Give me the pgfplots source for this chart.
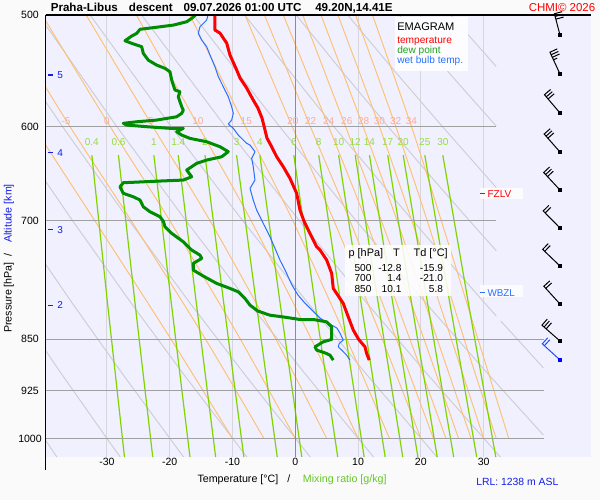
\documentclass[border=0pt]{standalone}
\usepackage{pgfplots}
\pgfplotsset{compat=1.18}
\usepackage{fontspec}
\setmainfont{Liberation Sans}
\definecolor{figbg}{RGB}{250,250,250}
\definecolor{plotbg}{RGB}{240,240,255}
\definecolor{vgrid}{RGB}{214,214,220}
\definecolor{hgrid}{RGB}{160,160,160}
\definecolor{zeroln}{RGB}{140,140,140}
\definecolor{dryad}{RGB}{205,205,210}
\definecolor{moistad}{RGB}{255,192,112}
\definecolor{moistlbl}{RGB}{255,170,150}
\definecolor{mixln}{RGB}{128,212,0}
\definecolor{mixlbl}{RGB}{150,220,60}
\definecolor{tempred}{RGB}{255,0,0}
\definecolor{dewgreen}{RGB}{0,140,0}
\definecolor{leggreen}{RGB}{30,160,30}
\definecolor{wetblue}{RGB}{40,110,255}
\definecolor{altblue}{RGB}{20,30,235}
\definecolor{xlgreen}{RGB}{100,200,40}
\newcommand{\fs}[1]{\fontsize{#1}{#1}\selectfont}
\begin{document}
\begin{tikzpicture}
\begin{scope}[x=0.75pt,y=-0.75pt]
\fill[figbg] (0,0) rectangle (600,500);
\end{scope}
\begin{axis}[
  at={(238.875pt,-177pt)}, anchor=center,
  width=408.75pt, height=331.5pt, scale only axis,
  xmin=-39.7, xmax=47.1, ymode=log, ymin=500, ymax=1031, y dir=reverse,
  axis line style={draw=none},
  axis background/.style={fill=plotbg},
  xtick={-30,-20,-10,0,10,20,30}, xticklabels={-30,-20,-10,0,10,20,30},
  ytick={500,600,700,850,925,1000}, yticklabels={500,600,700,850,925,1000},
  major tick length=0pt, minor tick length=0pt, tick style={draw=none},
  xticklabel style={anchor=center, yshift=-3.75pt, font=\fs{7.9pt}},
  yticklabel style={anchor=center, xshift=-12pt, font=\fs{7.9pt}},
  every axis plot/.append style={line join=round},
]
% vertical grid
\pgfplotsinvokeforeach{-30,-20,-10,10,20,30}{\addplot[vgrid, line width=0.75pt] coordinates {(#1,500) (#1,1031)};}
% dry adiabats
\addplot[dryad, line width=0.7pt] coordinates {(-37.96,1031) (-46.9,900)};
\addplot[dryad, line width=0.7pt] coordinates {(-27.87,1031) (-30,1000) (-37.21,900) (-45.02,800)};
\addplot[dryad, line width=0.7pt] coordinates {(-17.78,1031) (-27.50,900) (-35.63,800) (-44.53,700)};
\addplot[dryad, line width=0.7pt] coordinates {(-7.70,1031) (-17.80,900) (-26.25,800) (-35.49,700) (-45.73,600)};
\addplot[dryad, line width=0.7pt] coordinates {(2.39,1031) (-8.10,900) (-16.87,800) (-26.46,700) (-37.09,600) (-49.07,500)};
\addplot[dryad, line width=0.7pt] coordinates {(12.48,1031) (1.60,900) (-7.49,800) (-17.43,700) (-28.45,600) (-40.87,500)};
\addplot[dryad, line width=0.7pt] coordinates {(22.57,1031) (11.31,900) (1.90,800) (-8.40,700) (-19.80,600) (-32.67,500)};
\addplot[dryad, line width=0.7pt] coordinates {(32.66,1031) (21.01,900) (11.28,800) (0.63,700) (-11.16,600) (-24.46,500)};
\addplot[dryad, line width=0.7pt] coordinates {(39.5,994.4) (30.72,900) (20.66,800) (9.66,700) (-2.52,600) (-16.26,500)};
\addplot[dryad, line width=0.7pt] coordinates {(39.5,890.8) (32.72,825)};
\addplot[dryad, line width=0.7pt] coordinates {(32,818.2) (30.04,800) (18.69,700) (6.12,600) (-8.06,500)};
\addplot[dryad, line width=0.7pt] coordinates {(32,735.4) (27.72,700) (21.42,650) (14.76,600) (7.69,550) (0.15,500)};
\addplot[dryad, line width=0.7pt] coordinates {(32,663.1) (23.41,600) (16.12,550) (8.35,500)};
\addplot[dryad, line width=0.7pt] coordinates {(32,599.7) (24.55,550) (16.55,500)};
\addplot[dryad, line width=0.7pt] coordinates {(32,543.9) (24.76,500)};
% moist adiabats
\addplot[moistad, line width=0.7pt, smooth] coordinates {(-10,1000) (-19.8,850) (-31.95,700) (-41.7,600)};
\addplot[moistad, line width=0.7pt, smooth] coordinates {(-5,1000) (-14.3,850) (-26.15,700) (-35.9,600) (-46.7,500)};
\addplot[moistad, line width=0.7pt, smooth] coordinates {(0,1000) (-8.75,850) (-20.0,700) (-29.5,600) (-40.3,500)};
\addplot[moistad, line width=0.7pt, smooth] coordinates {(5,1000) (-3.1,850) (-13.6,700) (-22.7,600) (-33.3,500)};
\addplot[moistad, line width=0.7pt, smooth] coordinates {(10,1000) (2.55,850) (-7.05,700) (-15.4,600) (-25.3,500)};
\addplot[moistad, line width=0.7pt, smooth] coordinates {(15,1000) (8.2,850) (-0.4,700) (-7.95,600) (-16.8,500)};
\addplot[moistad, line width=0.7pt, smooth] coordinates {(20,1000) (13.85,850) (6.15,700) (-0.5,600) (-8.0,500)};
\addplot[moistad, line width=0.7pt, smooth] coordinates {(22,1000) (16.1,850) (8.7,700) (2.4,600) (-4.9,500)};
\addplot[moistad, line width=0.7pt, smooth] coordinates {(24,1000) (18.25,850) (11.25,700) (5.3,600) (-1.9,500)};
\addplot[moistad, line width=0.7pt, smooth] coordinates {(26,1000) (20.5,850) (13.7,700) (8.0,600) (1.2,500)};
\addplot[moistad, line width=0.7pt, smooth] coordinates {(28,1000) (22.6,850) (16.2,700) (10.8,600) (4.1,500)};
\addplot[moistad, line width=0.7pt, smooth] coordinates {(30,1000) (24.85,850) (18.55,700) (13.4,600) (6.8,500)};
\addplot[moistad, line width=0.7pt, smooth] coordinates {(32,1000) (26.9,850) (21.0,700) (16.0,600) (9.6,500)};
\addplot[moistad, line width=0.7pt, smooth] coordinates {(34,1000) (29.1,850) (23.25,700) (18.5,600) (12.3,500)};
% mixing ratio lines
\addplot[mixln, line width=0.9pt] coordinates {(-32.4,629) (-29.92,800) (-27.2,1031)};
\addplot[mixln, line width=0.9pt] coordinates {(-28.16,629) (-25.54,800) (-22.70,1031)};
\addplot[mixln, line width=0.9pt] coordinates {(-22.52,629) (-19.76,800) (-16.77,1031)};
\addplot[mixln, line width=0.9pt] coordinates {(-18.64,629) (-15.78,800) (-12.68,1031)};
\addplot[mixln, line width=0.9pt] coordinates {(-14.38,629) (-11.41,800) (-8.19,1031)};
\addplot[mixln, line width=0.9pt] coordinates {(-9.35,629) (-6.24,800) (-2.87,1031)};
\addplot[mixln, line width=0.9pt] coordinates {(-5.64,629) (-2.44,800) (1.04,1031)};
\addplot[mixln, line width=0.9pt] coordinates {(-0.23,629) (3.12,800) (6.76,1031)};
\addplot[mixln, line width=0.9pt] coordinates {(3.74,629) (7.21,800) (10.97,1031)};
\addplot[mixln, line width=0.9pt] coordinates {(6.91,629) (10.46,800) (14.32,1031)};
\addplot[mixln, line width=0.9pt] coordinates {(9.55,629) (13.18,800) (17.12,1031)};
\addplot[mixln, line width=0.9pt] coordinates {(11.82,629) (15.51,800) (19.53,1031)};
\addplot[mixln, line width=0.9pt] coordinates {(14.72,629) (18.50,800) (22.61,1031)};
\addplot[mixln, line width=0.9pt] coordinates {(17.19,629) (21.04,800) (25.23,1031)};
\addplot[mixln, line width=0.9pt] coordinates {(20.63,629) (24.59,800) (28.90,1031)};
\addplot[mixln, line width=0.9pt] coordinates {(23.50,629) (27.54,800) (31.94,1031)};
% horizontal grid
\addplot[hgrid, line width=0.9pt] coordinates {(-39.7,600) (32,600)};
\addplot[hgrid, line width=0.9pt] coordinates {(-39.7,700) (32,700)};
\addplot[hgrid, line width=0.9pt] coordinates {(-39.7,850) (39.6,850)};
\addplot[hgrid, line width=0.9pt] coordinates {(-39.7,925) (39.6,925)};
\addplot[hgrid, line width=0.9pt] coordinates {(-39.7,1000) (39.6,1000)};
\addplot[zeroln, line width=0.9pt] coordinates {(0,500) (0,1031)};
% labels of moist adiabats
\node[text=moistlbl, font=\fs{7.5pt}, inner sep=0pt] at (axis cs:-36.5,595) {-5};
\node[text=moistlbl, font=\fs{7.5pt}, inner sep=0pt] at (axis cs:-30.0,595) {0};
\node[text=moistlbl, font=\fs{7.5pt}, inner sep=0pt] at (axis cs:-23.0,595) {5};
\node[text=moistlbl, font=\fs{7.5pt}, inner sep=0pt] at (axis cs:-15.5,595) {10};
\node[text=moistlbl, font=\fs{7.5pt}, inner sep=0pt] at (axis cs:-7.8,595) {15};
\node[text=moistlbl, font=\fs{7.5pt}, inner sep=0pt] at (axis cs:-0.37,595) {20};
\node[text=moistlbl, font=\fs{7.5pt}, inner sep=0pt] at (axis cs:2.45,595) {22};
\node[text=moistlbl, font=\fs{7.5pt}, inner sep=0pt] at (axis cs:5.32,595) {24};
\node[text=moistlbl, font=\fs{7.5pt}, inner sep=0pt] at (axis cs:8.2,595) {26};
\node[text=moistlbl, font=\fs{7.5pt}, inner sep=0pt] at (axis cs:10.9,595) {28};
\node[text=moistlbl, font=\fs{7.5pt}, inner sep=0pt] at (axis cs:13.4,595) {30};
\node[text=moistlbl, font=\fs{7.5pt}, inner sep=0pt] at (axis cs:16.0,595) {32};
\node[text=moistlbl, font=\fs{7.5pt}, inner sep=0pt] at (axis cs:18.5,595) {34};
% labels of mixing ratio lines
\node[text=mixlbl, font=\fs{7.5pt}, inner sep=0pt] at (axis cs:-32.4,616) {0.4};
\node[text=mixlbl, font=\fs{7.5pt}, inner sep=0pt] at (axis cs:-28.16,616) {0.6};
\node[text=mixlbl, font=\fs{7.5pt}, inner sep=0pt] at (axis cs:-22.52,616) {1};
\node[text=mixlbl, font=\fs{7.5pt}, inner sep=0pt] at (axis cs:-18.64,616) {1.4};
\node[text=mixlbl, font=\fs{7.5pt}, inner sep=0pt] at (axis cs:-14.38,616) {2};
\node[text=mixlbl, font=\fs{7.5pt}, inner sep=0pt] at (axis cs:-9.35,616) {3};
\node[text=mixlbl, font=\fs{7.5pt}, inner sep=0pt] at (axis cs:-5.64,616) {4};
\node[text=mixlbl, font=\fs{7.5pt}, inner sep=0pt] at (axis cs:-0.23,616) {6};
\node[text=mixlbl, font=\fs{7.5pt}, inner sep=0pt] at (axis cs:3.74,616) {8};
\node[text=mixlbl, font=\fs{7.5pt}, inner sep=0pt] at (axis cs:6.91,616) {10};
\node[text=mixlbl, font=\fs{7.5pt}, inner sep=0pt] at (axis cs:9.55,616) {12};
\node[text=mixlbl, font=\fs{7.5pt}, inner sep=0pt] at (axis cs:11.82,616) {14};
\node[text=mixlbl, font=\fs{7.5pt}, inner sep=0pt] at (axis cs:14.72,616) {17};
\node[text=mixlbl, font=\fs{7.5pt}, inner sep=0pt] at (axis cs:17.19,616) {20};
\node[text=mixlbl, font=\fs{7.5pt}, inner sep=0pt] at (axis cs:20.63,616) {25};
\node[text=mixlbl, font=\fs{7.5pt}, inner sep=0pt] at (axis cs:23.50,616) {30};
% wet bulb temperature
\addplot[wetblue, line width=0.75pt] coordinates {
(-13.9,500) (-14.11,504.1) (-15.18,509.7) (-15.45,515.2) (-14.90,520.9) (-14.11,526.6) (-13.58,533.8)
(-12.79,544.2) (-12.26,553.1) (-11.46,562.3) (-10.67,571.6) (-10.13,581.0) (-9.87,587.3) (-10.13,593.8)
(-10.67,597.7) (-9.87,601.9) (-9.08,608.6) (-7.74,616.9) (-7.21,618.6) (-6.42,625.4) (-6.94,632.3)
(-6.69,641.0) (-6.42,655.1) (-7.21,664.2) (-6.69,676.9) (-6.15,688.1) (-5.10,703.3) (-4.03,718.9)
(-3.23,732.7) (-2.44,746.8) (-1.48,761.6) (-0.53,778.0) (0.43,790.9) (1.54,801.3) (2.82,811.9)
(3.93,821.3) (5.53,829.4) (6.64,834.8) (7.12,841.7) (7.39,846.8) (7.64,851.4) (7.01,856.0)
(6.85,860.8) (7.39,865.4) (8.18,872.6) (8.71,879.7)};
% dew point
\addplot[dewgreen, line width=2.25pt] coordinates {
(-15.9,500) (-16.50,502.7) (-17.29,505.5) (-19.43,508.3) (-21.54,509.7) (-24.73,511.8) (-25.25,515.2)
(-26.05,517.5) (-27.12,521.5) (-26.05,523.7) (-24.46,526.6) (-24.20,532.4) (-23.41,538.3) (-22.07,542.7)
(-20.75,545.6) (-19.95,548.7) (-19.68,556.2) (-19.16,565.3) (-18.36,566.9) (-18.63,571.6) (-18.09,581.0)
(-17.83,584.2) (-18.09,587.3) (-18.89,590.6) (-22.07,593.8) (-25.25,595.5) (-27.39,597.0) (-26.85,598.7)
(-23.66,600.3) (-19.95,601.9) (-17.83,601.9) (-18.89,605.3) (-18.09,608.6) (-16.77,611.9) (-14.11,615.3)
(-11.99,620.3) (-10.67,625.4) (-11.72,630.6) (-14.11,634.0) (-15.70,637.4) (-17.29,644.5) (-16.50,651.6)
(-17.83,655.1) (-21.54,656.2) (-27.39,658.0) (-27.91,662.4) (-27.39,669.5) (-25.80,673.3) (-24.73,676.9)
(-24.20,684.4) (-23.14,690.0) (-21.54,695.7) (-21.0,701.0) (-20.75,707.3) (-19.68,714.9) (-17.83,724.9)
(-16.50,734.7) (-15.18,740.8) (-14.90,744.8) (-16.24,750.9) (-16.24,759.2) (-14.65,766.7) (-12.52,775.9)
(-10.40,782.3) (-9.08,786.7) (-8.01,795.2) (-7.21,804.0) (-5.94,811.9) (-4.03,817.3) (-1.64,820.0)
(0.75,823.1) (2.87,823.1) (5.00,826.3) (5.80,833.1) (5.80,842.1) (5.8,850.4) (4.46,853.7) (3.14,860.8)
(3.41,865.4) (4.73,869.3) (5.53,872.6) (6.05,879.7)};
% temperature
\addplot[tempred, line width=2.25pt] coordinates {
(-12.8,500) (-12.8,512.4) (-11.99,515.0) (-10.92,523.5) (-10.40,533.8) (-9.33,547.1) (-8.80,554.3)
(-7.74,563.5) (-6.69,574.7) (-5.94,582.3) (-5.30,591.9) (-4.90,601.6) (-4.51,611.6) (-3.76,620.3)
(-2.96,630.6) (-1.91,641.0) (-0.84,653.3) (0.22,669.5) (0.75,688.1) (1.4,701.0) (2.34,714.9)
(3.41,730.8) (3.94,734.7) (5.00,746.8) (5.80,763.3) (6.05,782.3) (7.64,801.7) (8.44,819.5)
(9.24,837.5) (10.1,850.4) (11.10,860.8) (11.37,870.1) (11.78,879.7)};
\end{axis}
% wind barbs (pixel frame overlay)
\begin{axis}[
  at={(238.875pt,-177pt)}, anchor=center,
  width=408.75pt, height=331.5pt, scale only axis,
  xmin=46, xmax=591, ymin=15, ymax=457, y dir=reverse,
  hide axis, clip=false, unbounded coords=jump,
]
\addplot[black, line width=0.75pt] coordinates {(560,35) (554.37,13.73) (562.11,11.68) (nan,nan) (555.08,16.43) (562.82,14.38) (nan,nan) (555.80,19.14) (563.54,17.09)};
\addplot[black, line width=0.75pt] coordinates {(560,74) (549.94,52.23) (557.20,48.88) (nan,nan) (551.12,54.77) (558.38,51.42) (nan,nan) (552.29,57.31) (559.55,53.96) (nan,nan) (553.46,59.85) (557.09,58.17)};
\addplot[black, line width=0.75pt] coordinates {(560,113) (544.45,94.69) (550.55,89.51) (nan,nan) (546.26,96.82) (552.36,91.64) (nan,nan) (548.08,98.96) (554.18,93.78)};
\addplot[black, line width=0.75pt] coordinates {(560,152) (544.16,134.0) (550.16,128.72) (nan,nan) (546.01,136.1) (552.01,130.82) (nan,nan) (547.86,138.2) (553.86,132.92)};
\addplot[black, line width=0.75pt] coordinates {(560,190) (543.68,172.48) (549.52,167.04) (nan,nan) (545.58,174.52) (551.42,169.08) (nan,nan) (547.49,176.57) (553.33,171.13)};
\addplot[black, line width=0.75pt] coordinates {(560,228) (543.2,210.96) (548.88,205.36) (nan,nan) (545.16,212.95) (550.84,207.35)};
\addplot[black, line width=0.75pt] coordinates {(560,266) (542.67,249.39) (548.21,243.61) (nan,nan) (544.69,251.33) (550.23,245.55)};
\addplot[black, line width=0.75pt] coordinates {(560,304) (543.85,286.24) (549.77,280.86) (nan,nan) (545.73,288.31) (551.65,282.93)};
\addplot[black, line width=0.75pt] coordinates {(560,341) (541.95,325.18) (547.22,319.16) (nan,nan) (544.06,327.03) (549.33,321.01) (nan,nan) (546.16,328.87) (551.43,322.85)};
\addplot[wetblue!70!blue, line width=0.75pt] coordinates {(560,360) (542.29,343.8) (547.69,337.9) (nan,nan) (544.35,345.69) (549.75,339.79)};
\addplot[only marks, mark=square*, mark size=1.1pt, black] coordinates {(560,35) (560,74) (560,113) (560,152) (560,190) (560,228) (560,266) (560,304) (560,341)};
\addplot[only marks, mark=square*, mark size=1.1pt, blue] coordinates {(560,360)};
\end{axis}
\begin{scope}[x=0.75pt,y=-0.75pt]
% frame lines
\draw[black, line width=1pt] (45.5,15) -- (45.5,469.5);
\draw[black, line width=1pt] (45.5,15) -- (591,15);
% title
\node[anchor=base west, inner sep=0pt, font=\bfseries\fs{8.7pt}] at (50.5,11.5) {Praha-Libus};
\node[anchor=base west, inner sep=0pt, font=\bfseries\fs{8.7pt}] at (128.7,11.5) {descent};
\node[anchor=base west, inner sep=0pt, font=\bfseries\fs{8.7pt}] at (183.3,11.5) {09.07.2026 01:00 UTC};
\node[anchor=base west, inner sep=0pt, font=\bfseries\fs{8.7pt}] at (315,11.5) {49.20N,14.41E};
\node[anchor=base east, inner sep=0pt, text=tempred, font=\fs{8.6pt}] at (595.5,11.5) {CHMI© 2026};
% legend box
\fill[white, opacity=0.92] (395,17) rectangle (468,70.7);
\node[anchor=base west, inner sep=0pt, font=\fs{8.3pt}] at (397,30.3) {EMAGRAM};
\node[anchor=base west, inner sep=0pt, text=tempred, font=\fs{7.6pt}] at (397,43.5) {temperature};
\node[anchor=base west, inner sep=0pt, text=leggreen, font=\fs{7.6pt}] at (397,53.5) {dew point};
\node[anchor=base west, inner sep=0pt, text=wetblue, font=\fs{7.6pt}] at (397,63.5) {wet bulb temp.};
% table box
\fill[white, opacity=0.85] (345,245) rectangle (451,296);
\node[anchor=base west, inner sep=0pt, font=\fs{8.2pt}] at (348.3,256) {p [hPa]};
\node[anchor=base, inner sep=0pt, font=\fs{8.2pt}] at (396.5,256) {T};
\node[anchor=base west, inner sep=0pt, font=\fs{8.2pt}] at (413.3,256) {Td [°C]};
\node[anchor=base east, inner sep=0pt, font=\fs{7.6pt}] at (371.7,271) {500};
\node[anchor=base east, inner sep=0pt, font=\fs{7.6pt}] at (401.7,271) {-12.8};
\node[anchor=base east, inner sep=0pt, font=\fs{7.6pt}] at (443.3,271) {-15.9};
\node[anchor=base east, inner sep=0pt, font=\fs{7.6pt}] at (371.7,281.7) {700};
\node[anchor=base east, inner sep=0pt, font=\fs{7.6pt}] at (401.7,281.7) {1.4};
\node[anchor=base east, inner sep=0pt, font=\fs{7.6pt}] at (443.3,281.7) {-21.0};
\node[anchor=base east, inner sep=0pt, font=\fs{7.6pt}] at (371.7,292.7) {850};
\node[anchor=base east, inner sep=0pt, font=\fs{7.6pt}] at (401.7,292.7) {10.1};
\node[anchor=base east, inner sep=0pt, font=\fs{7.6pt}] at (443.3,292.7) {5.8};
% FZLV / WBZL
\fill[white, opacity=0.85] (480,188.3) rectangle (522.7,199);
\draw[tempred, line width=0.8pt] (480,193.5) -- (485,193.5);
\node[anchor=west, inner sep=0pt, text=tempred, font=\fs{7.5pt}] at (487.3,193.7) {FZLV};
\fill[white, opacity=0.85] (480,285) rectangle (523.3,296.7);
\draw[wetblue, line width=0.8pt] (480,292.7) -- (485,292.7);
\node[anchor=west, inner sep=0pt, text=wetblue, font=\fs{7.4pt}] at (487.3,292.7) {WBZL};
% altitude ticks
\draw[altblue, line width=0.9pt] (48,75) -- (53,75);
\node[anchor=west, inner sep=0pt, text=altblue, font=\fs{7.5pt}] at (57,75) {5};
\draw[altblue, line width=0.9pt] (48,152.7) -- (53,152.7);
\node[anchor=west, inner sep=0pt, text=altblue, font=\fs{7.5pt}] at (57,152.7) {4};
\draw[altblue, line width=0.9pt] (48,229.7) -- (53,229.7);
\node[anchor=west, inner sep=0pt, text=altblue, font=\fs{7.5pt}] at (57,229.7) {3};
\draw[altblue, line width=0.9pt] (48,305.3) -- (53,305.3);
\node[anchor=west, inner sep=0pt, text=altblue, font=\fs{7.5pt}] at (57,305.3) {2};
% axis titles
\node[anchor=base west, inner sep=0pt, font=\fs{8pt}] at (197.3,482) {Temperature [°C]};
\node[anchor=base west, inner sep=0pt, font=\fs{8pt}] at (287,482) {/};
\node[anchor=base west, inner sep=0pt, text=xlgreen, font=\fs{8pt}] at (302.7,482) {Mixing ratio [g/kg]};
\node[anchor=base west, rotate=90, inner sep=0pt, font=\fs{8pt}] at (11.7,333) {Pressure [hPa]};
\node[anchor=base west, rotate=90, inner sep=0pt, font=\fs{8pt}] at (11.7,256.5) {/};
\node[anchor=base west, rotate=90, inner sep=0pt, text=altblue, font=\fs{8pt}] at (11.7,243) {Altitude [km]};
\node[anchor=base west, inner sep=0pt, text=altblue, font=\fs{7.8pt}] at (476,485) {LRL: 1238 m ASL};
\end{scope}
\end{tikzpicture}
\end{document}
